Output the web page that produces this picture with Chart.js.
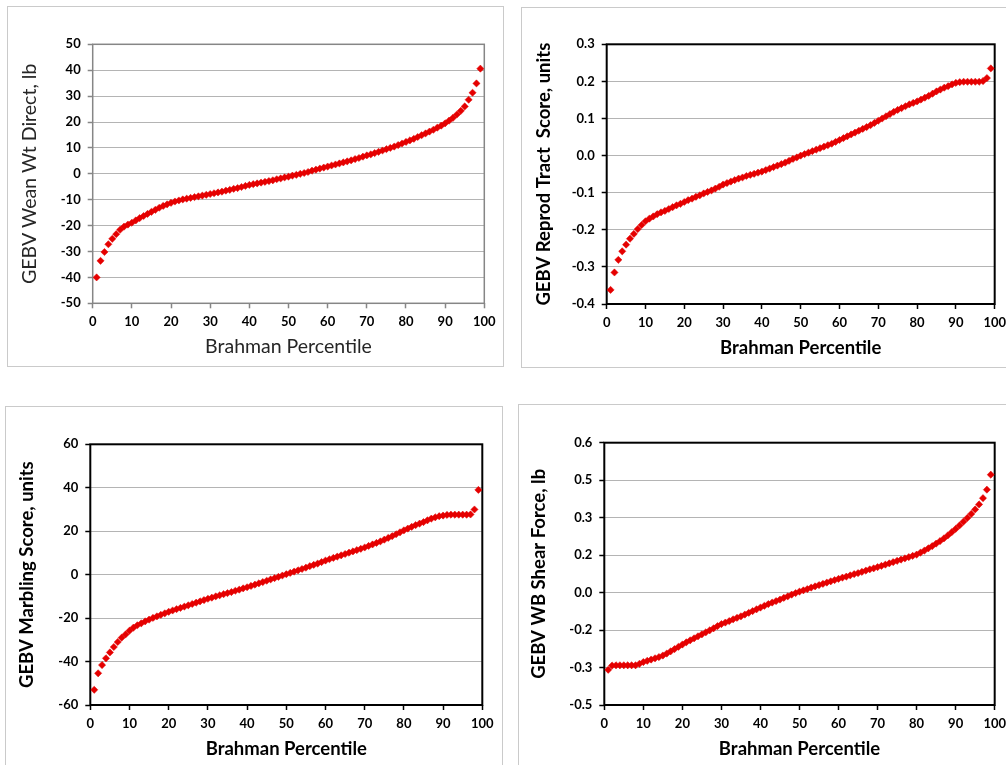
<!DOCTYPE html>
<html>
<head>
<meta charset="utf-8">
<title>GEBV by Brahman Percentile</title>
<script src="https://cdn.jsdelivr.net/npm/chart.js@4.4.1/dist/chart.umd.min.js"></script>
<style>
  html, body { margin: 0; padding: 0; background: #fff; width: 1006px; height: 765px; overflow: hidden; position: relative; }
  .panel { position: absolute; border: 1px solid #cacaca; box-sizing: border-box; overflow: hidden; }
  .panel canvas { position: absolute; left: 0; top: 0; }
</style>
</head>
<body>
  <div class="panel" style="left:7px; top:6px; width:497px; height:361px;">
    <canvas id="weanChart" width="495" height="359"></canvas>
  </div>
  <div class="panel" style="left:521px; top:7px; width:492px; height:361px;">
    <canvas id="reprodChart" width="490" height="359"></canvas>
  </div>
  <div class="panel" style="left:5px; top:406px; width:498px; height:364px;">
    <canvas id="marblingChart" width="496" height="362"></canvas>
  </div>
  <div class="panel" style="left:518px; top:404px; width:495px; height:366px;">
    <canvas id="shearChart" width="493" height="364"></canvas>
  </div>

<script>
// ---- data ----

const percentiles = [
  1, 2, 3, 4, 5, 6, 7, 8, 9, 10, 11, 12, 13, 14, 15, 16, 17, 18, 19, 20,
  21, 22, 23, 24, 25, 26, 27, 28, 29, 30, 31, 32, 33, 34, 35, 36, 37, 38, 39, 40,
  41, 42, 43, 44, 45, 46, 47, 48, 49, 50, 51, 52, 53, 54, 55, 56, 57, 58, 59, 60,
  61, 62, 63, 64, 65, 66, 67, 68, 69, 70, 71, 72, 73, 74, 75, 76, 77, 78, 79, 80,
  81, 82, 83, 84, 85, 86, 87, 88, 89, 90, 91, 92, 93, 94, 95, 96, 97, 98, 99
];

const weanWtDirect = [
  -40.0, -33.6, -30.2, -27.2, -25.1, -23.3, -21.6, -20.4, -19.6, -18.9,
  -18.0, -17.1, -16.3, -15.5, -14.7, -13.9, -13.1, -12.4, -11.8, -11.2,
  -10.7, -10.3, -9.9, -9.6, -9.3, -9.0, -8.7, -8.4, -8.1, -7.8,
  -7.5, -7.2, -6.9, -6.5, -6.2, -5.8, -5.5, -5.1, -4.7, -4.3,
  -4.0, -3.7, -3.4, -3.1, -2.8, -2.5, -2.1, -1.8, -1.4, -1.1,
  -0.7, -0.4, 0.0, 0.3, 0.7, 1.2, 1.6, 2.0, 2.4, 2.8,
  3.2, 3.6, 4.0, 4.4, 4.8, 5.2, 5.7, 6.1, 6.6, 7.1,
  7.5, 8.0, 8.5, 9.0, 9.5, 10.0, 10.5, 11.1, 11.7, 12.3,
  12.9, 13.5, 14.2, 14.9, 15.6, 16.3, 17.0, 17.8, 18.6, 19.5,
  20.5, 21.6, 22.9, 24.3, 26.0, 28.6, 31.3, 34.9, 40.6
];

const reprodTractScore = [
  -0.362, -0.315, -0.281, -0.258, -0.240, -0.224, -0.211, -0.198, -0.187, -0.177,
  -0.170, -0.164, -0.158, -0.153, -0.149, -0.144, -0.139, -0.134, -0.130, -0.125,
  -0.120, -0.116, -0.111, -0.107, -0.102, -0.098, -0.094, -0.089, -0.084, -0.078,
  -0.074, -0.070, -0.066, -0.062, -0.059, -0.055, -0.052, -0.049, -0.046, -0.043,
  -0.039, -0.035, -0.031, -0.027, -0.023, -0.019, -0.014, -0.009, -0.005, 0.000,
  0.004, 0.008, 0.012, 0.016, 0.020, 0.024, 0.028, 0.032, 0.037, 0.042,
  0.047, 0.052, 0.057, 0.062, 0.067, 0.072, 0.077, 0.082, 0.088, 0.094,
  0.100, 0.106, 0.112, 0.118, 0.123, 0.128, 0.133, 0.138, 0.142, 0.146,
  0.151, 0.156, 0.161, 0.167, 0.173, 0.178, 0.183, 0.187, 0.192, 0.196,
  0.198, 0.199, 0.199, 0.199, 0.199, 0.199, 0.201, 0.209, 0.235
];

const marblingScore = [
  -53.0, -45.4, -41.6, -38.5, -35.8, -33.3, -31.0, -29.0, -27.5, -25.8,
  -24.4, -23.3, -22.4, -21.5, -20.7, -19.9, -19.2, -18.5, -17.8, -17.1,
  -16.5, -15.9, -15.3, -14.7, -14.1, -13.5, -12.9, -12.3, -11.7, -11.1,
  -10.6, -10.0, -9.5, -9.0, -8.5, -8.0, -7.4, -6.9, -6.3, -5.8,
  -5.2, -4.6, -4.0, -3.4, -2.8, -2.2, -1.6, -1.0, -0.4, 0.2,
  0.8, 1.4, 2.0, 2.6, 3.2, 3.9, 4.5, 5.1, 5.8, 6.5,
  7.1, 7.7, 8.3, 8.9, 9.5, 10.1, 10.7, 11.3, 11.9, 12.5,
  13.2, 13.9, 14.6, 15.3, 16.1, 16.9, 17.7, 18.6, 19.5, 20.4,
  21.2, 22.0, 22.8, 23.5, 24.2, 25.0, 25.8, 26.4, 26.9, 27.2,
  27.5, 27.6, 27.6, 27.6, 27.6, 27.6, 27.7, 30.0, 39.0
];

const wbShearForce = [
  -0.309, -0.292, -0.291, -0.291, -0.291, -0.291, -0.291, -0.291, -0.285, -0.278,
  -0.273, -0.268, -0.263, -0.258, -0.252, -0.244, -0.235, -0.226, -0.217, -0.208,
  -0.199, -0.191, -0.183, -0.175, -0.167, -0.159, -0.151, -0.143, -0.134, -0.126,
  -0.120, -0.114, -0.107, -0.101, -0.095, -0.088, -0.081, -0.074, -0.067, -0.060,
  -0.053, -0.046, -0.040, -0.034, -0.028, -0.021, -0.015, -0.008, -0.002, 0.004,
  0.009, 0.014, 0.020, 0.025, 0.030, 0.035, 0.040, 0.045, 0.050, 0.055,
  0.060, 0.064, 0.069, 0.074, 0.078, 0.083, 0.088, 0.093, 0.097, 0.102,
  0.107, 0.112, 0.117, 0.122, 0.127, 0.132, 0.137, 0.142, 0.147, 0.152,
  0.160, 0.168, 0.177, 0.186, 0.196, 0.206, 0.217, 0.229, 0.242, 0.255,
  0.269, 0.284, 0.299, 0.315, 0.333, 0.353, 0.378, 0.412, 0.472
];

// y tick labels exactly as printed on each axis (bottom to top)
const weanTicks = ['-50', '-40', '-30', '-20', '-10', '0', '10', '20', '30', '40', '50'];
const reprodTicks = ['-0.4', '-0.3', '-0.2', '-0.1', '0.0', '0.1', '0.2', '0.3'];
const marblingTicks = ['-60', '-40', '-20', '0', '20', '40', '60'];
const shearTicks = ['-0.5', '-0.3', '-0.2', '0.0', '0.2', '0.3', '0.5', '0.6'];

const xTitle = 'Brahman Percentile';

// ---- helpers ----

const markerRed = '#e50000';
const fontFamily = 'Lato, "Open Sans", sans-serif';

// draws the boxed plot area, like the Excel originals
const plotFrame = {
  id: 'plotFrame',
  beforeDatasetsDraw(chart, args, opts) {
    const { ctx, chartArea: a } = chart;
    ctx.save();
    ctx.strokeStyle = opts.color;
    ctx.lineWidth = opts.width;
    ctx.strokeRect(a.left, a.top, a.right - a.left, a.bottom - a.top);
    ctx.restore();
  }
};

function makeChart(id, cfg) {
  const titleFont = { family: fontFamily, size: cfg.titleSize, weight: cfg.titleWeight, lineHeight: 1.2 };
  const half = cfg.titleSize * 1.2 / 2;
  const tickFont = { family: fontFamily, size: 13, weight: 'bold' };

  return new Chart(document.getElementById(id), {
    type: 'scatter',
    data: {
      datasets: [{
        data: percentiles.map((p, i) => ({ x: p, y: cfg.values[i] })),
        pointStyle: 'rectRot',
        pointRadius: 3.6,
        pointHoverRadius: 3.6,
        backgroundColor: markerRed,
        borderColor: markerRed,
        borderWidth: 0.5,
      }],
    },
    options: {
      responsive: false,
      animation: false,
      events: [],
      layout: { padding: { top: cfg.padTop, right: cfg.padRight, left: 0, bottom: 0 } },
      plugins: {
        legend: { display: false },
        tooltip: { enabled: false },
        plotFrame: { color: cfg.frameColor, width: cfg.frameWidth },
      },
      scales: {
        x: {
          type: 'linear',
          min: 0,
          max: 100,
          border: { display: false },
          grid: { drawOnChartArea: false, drawTicks: true, tickLength: 5, tickColor: cfg.frameColor, tickWidth: 1.5 },
          ticks: { stepSize: 10, font: tickFont, color: '#000', padding: 6, maxRotation: 0, autoSkip: false },
          title: {
            display: true, text: xTitle, font: titleFont, color: cfg.titleColor,
            padding: { top: 0, bottom: cfg.xTitleOffset - half },
          },
          afterFit: (scale) => { scale.height = cfg.xHeight; },
        },
        y: {
          min: cfg.yMin,
          max: cfg.yMax,
          border: { display: false },
          grid: { color: '#b4b4b4', lineWidth: 1, drawTicks: true, tickLength: 5, tickColor: cfg.frameColor, tickWidth: 1.5 },
          ticks: {
            stepSize: cfg.yStep, font: tickFont, color: '#000', padding: 7, autoSkip: false,
            callback: (v, i) => cfg.yLabels[i],
          },
          title: {
            display: true, text: cfg.yTitle, font: titleFont, color: cfg.titleColor,
            padding: { top: cfg.yTitleOffset - half, bottom: 0 },
          },
          afterFit: (scale) => { scale.width = cfg.yWidth; },
        },
      },
    },
    plugins: [plotFrame],
  });
}

// ---- the four panels ----

makeChart('weanChart', {
  values: weanWtDirect, yLabels: weanTicks, yMin: -50, yMax: 50, yStep: 10,
  yTitle: 'GEBV Wean Wt Direct, lb',
  titleSize: 19.5, titleWeight: 'normal', titleColor: '#262626',
  frameColor: '#868686', frameWidth: 1.5,
  yWidth: 84.7, xHeight: 62.7, padTop: 37.3, padRight: 18.7,
  xTitleOffset: 19, yTitleOffset: 21.3,
});

makeChart('reprodChart', {
  values: reprodTractScore, yLabels: reprodTicks, yMin: -0.4, yMax: 0.3, yStep: 0.1,
  yTitle: 'GEBV Reprod Tract  Score, units',
  titleSize: 18.5, titleWeight: 'bold', titleColor: '#000',
  frameColor: '#000', frameWidth: 2,
  yWidth: 84.7, xHeight: 63, padTop: 36.3, padRight: 14.7,
  xTitleOffset: 19, yTitleOffset: 22.3,
});

makeChart('marblingChart', {
  values: marblingScore, yLabels: marblingTicks, yMin: -60, yMax: 60, yStep: 20,
  yTitle: 'GEBV Marbling Score, units',
  titleSize: 18.5, titleWeight: 'bold', titleColor: '#000',
  frameColor: '#000', frameWidth: 2,
  yWidth: 84.3, xHeight: 64, padTop: 37.3, padRight: 19.7,
  xTitleOffset: 20, yTitleOffset: 20.7,
});

makeChart('shearChart', {
  values: wbShearForce, yLabels: shearTicks, yMin: -0.45, yMax: 0.6, yStep: 0.15,
  yTitle: 'GEBV WB Shear Force, lb',
  titleSize: 18.5, titleWeight: 'bold', titleColor: '#000',
  frameColor: '#000', frameWidth: 2,
  yWidth: 85.3, xHeight: 64, padTop: 37.7, padRight: 13,
  xTitleOffset: 20, yTitleOffset: 20,
});
</script>
</body>
</html>
